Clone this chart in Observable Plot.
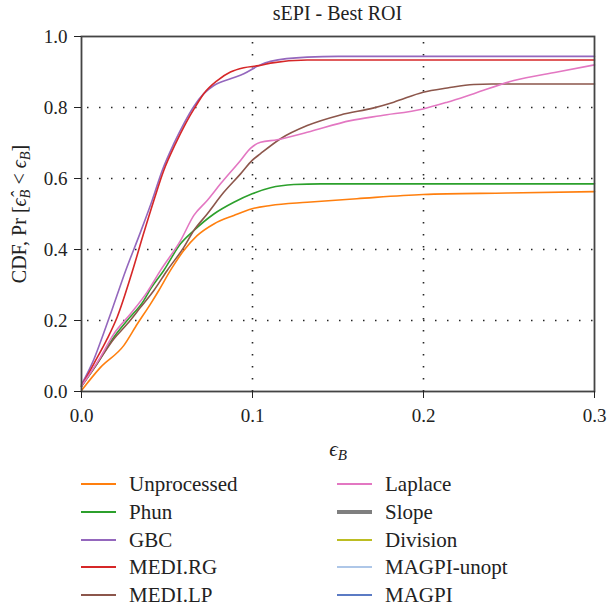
<!DOCTYPE html>
<html><head><meta charset="utf-8">
<script src="https://cdn.jsdelivr.net/npm/d3@7"></script>
<script src="https://cdn.jsdelivr.net/npm/@observablehq/plot@0.6"></script>
<style>
body{margin:0;background:#fff;font-family:"Liberation Serif",serif;color:#222}
#wrap{width:607px;position:relative}
#title{height:24px;line-height:27px;font-size:20px;margin-left:81px;width:513px;text-align:center;white-space:nowrap}
#legend{position:relative;height:140px}
.item{position:absolute;height:28px;display:flex;align-items:center;font-size:21px;white-space:nowrap}
.sw{width:35px;margin-right:13px}
</style></head><body>
<div id="wrap">
<div id="title">sEPI - Best ROI</div>
<div id="chart"></div>
<div id="legend"></div>
</div>
<script>
const seriesNames = ["Unprocessed","Phun","GBC","MEDI.RG","MEDI.LP","Laplace","Slope","Division","MAGPI-unopt","MAGPI"];
const seriesColors = ["#ff7f0e","#2ca02c","#9467bd","#d62728","#8c564b","#e377c2","#7f7f7f","#bcbd22","#aec7e8","#5b7bc4"];
const legendWidths = [2,2,2,2,2,2,4,2,2,2];

const xTicks = [0, 0.1, 0.2, 0.3];
const yTicks = [0, 0.2, 0.4, 0.6, 0.8, 1.0];
const xGrid = [0.1, 0.2];
const yGrid = [0.2, 0.4, 0.6, 0.8];

const unprocessed = [[0,0.003],[0.0111,0.068],[0.0248,0.13],[0.0326,0.19],[0.0404,0.247],[0.0452,0.2845],[0.052,0.341],[0.0598,0.397],[0.0676,0.439],[0.0774,0.472],[0.0891,0.496],[0.0998,0.515],[0.1105,0.524],[0.132,0.533],[0.161,0.543],[0.1998,0.555],[0.249,0.559],[0.3,0.563]];
const phun = [[0,0.015],[0.008,0.07],[0.0189,0.153],[0.0267,0.2],[0.0364,0.256],[0.0404,0.289],[0.0481,0.341],[0.0579,0.416],[0.0657,0.4535],[0.0774,0.5],[0.0891,0.533],[0.0998,0.557],[0.1105,0.574],[0.1242,0.583],[0.14,0.585],[0.3,0.585]];
const gbc = [[0,0.02],[0.0072,0.09],[0.013,0.165],[0.0189,0.245],[0.0258,0.34],[0.0345,0.449],[0.0413,0.538],[0.0472,0.6225],[0.054,0.698],[0.0598,0.754],[0.0657,0.803],[0.0715,0.839],[0.0774,0.862],[0.0871,0.881],[0.0949,0.895],[0.1037,0.918],[0.1105,0.93],[0.132,0.942],[0.15,0.944],[0.3,0.944]];
const mediRG = [[0,0.015],[0.0072,0.078],[0.015,0.148],[0.0209,0.21],[0.0297,0.338],[0.036,0.44],[0.0423,0.538],[0.0481,0.6225],[0.055,0.698],[0.0608,0.754],[0.0667,0.803],[0.0715,0.839],[0.0794,0.876],[0.0871,0.9],[0.0949,0.912],[0.1037,0.918],[0.1105,0.925],[0.132,0.934],[0.3,0.934]];
const mediLP = [[0,0.015],[0.008,0.07],[0.0189,0.148],[0.0267,0.19],[0.0345,0.237],[0.0423,0.2845],[0.0501,0.341],[0.0598,0.406],[0.0657,0.4535],[0.0735,0.5],[0.0832,0.561],[0.093,0.613],[0.0998,0.651],[0.1047,0.67],[0.1164,0.712],[0.132,0.749],[0.1515,0.779],[0.171,0.799],[0.1826,0.815],[0.1998,0.843],[0.2139,0.855],[0.2294,0.865],[0.24,0.866],[0.3,0.866]];
const laplace = [[0,0.015],[0.0111,0.097],[0.0189,0.162],[0.0287,0.219],[0.0384,0.28],[0.0462,0.341],[0.0579,0.425],[0.0657,0.496],[0.0735,0.538],[0.0813,0.585],[0.093,0.651],[0.0988,0.685],[0.1047,0.702],[0.1144,0.709],[0.132,0.73],[0.1573,0.763],[0.1749,0.777],[0.1998,0.796],[0.2139,0.815],[0.2294,0.839],[0.2528,0.876],[0.2782,0.9],[0.3,0.92]];

const drawn = [["Unprocessed",unprocessed],["Phun",phun],["GBC",gbc],["MEDI.RG",mediRG],["MEDI.LP",mediLP],["Laplace",laplace]];
const rows = drawn.flatMap(([name, pts]) => pts.map(([x, y]) => ({name, x, y})));

const plot = Plot.plot({
  width: 607, height: 440,
  marginLeft: 81, marginRight: 13, marginTop: 12, marginBottom: 73,
  style: {fontFamily: '"Liberation Serif", serif', fontSize: "19px", color: "#222", background: "#fff"},
  x: {domain: [0, 0.3]},
  y: {domain: [0, 1]},
  color: {domain: seriesNames, range: seriesColors},
  marks: [
    Plot.gridX(xGrid, {stroke: "#000", strokeOpacity: 0.85, strokeWidth: 1.6, strokeDasharray: "1.5,10.5", strokeDashoffset: -6}),
    Plot.gridY(yGrid, {stroke: "#000", strokeOpacity: 0.85, strokeWidth: 1.6, strokeDasharray: "1.5,10.5", strokeDashoffset: -6}),
    Plot.line(rows, {x: "x", y: "y", z: "name", stroke: "name", strokeWidth: 1.6, curve: "monotone-x"}),
    Plot.frame({stroke: "#444", strokeWidth: 1.8}),
    Plot.axisX({ticks: xTicks, tickFormat: d3.format(".1f"), tickSize: 7, tickPadding: 10, label: "ϵB", labelAnchor: "center", labelArrow: "none", labelOffset: 57}),
    Plot.axisY({ticks: yTicks, tickFormat: d3.format(".1f"), tickSize: 7, tickPadding: 7, label: "CDF", labelAnchor: "center", labelArrow: "none", labelOffset: 70})
  ]
});
document.getElementById("chart").appendChild(plot);

const sv = d3.select(plot);
sv.selectAll("g[aria-label='x-axis label']").each(function(){
  const tr = this.getAttribute("transform") || "";
  this.setAttribute("transform", (tr + " translate(0,7)").trim());
});
sv.selectAll("g[aria-label='x-axis label'] text").each(function(){
  const t = d3.select(this); t.text("").attr("font-size", "21px");
  t.append("tspan").attr("font-style","italic").text("ϵ");
  t.append("tspan").attr("font-style","italic").attr("font-size","0.72em").attr("dy","0.3em").text("B");
});
sv.selectAll("g[aria-label='y-axis label'] text").each(function(){
  const t = d3.select(this); t.text("").attr("font-size", "20px");
  t.append("tspan").text("CDF, Pr [");
  t.append("tspan").attr("font-style","italic").text("ϵ\u0302");
  t.append("tspan").attr("font-style","italic").attr("font-size","0.72em").attr("dy","0.3em").text("B");
  t.append("tspan").attr("dy","-0.22em").text(" < ");
  t.append("tspan").attr("font-style","italic").text("ϵ");
  t.append("tspan").attr("font-style","italic").attr("font-size","0.72em").attr("dy","0.3em").text("B");
  t.append("tspan").attr("dy","-0.22em").text("]");
});

const lg = document.getElementById("legend");
const colLeft = [81, 337];
const rowCenter = [20, 48, 76, 103, 131];
seriesNames.forEach((name, i) => {
  const col = i < 5 ? 0 : 1, r = i % 5;
  const it = document.createElement("div"); it.className = "item";
  it.style.left = colLeft[col] + "px"; it.style.top = (rowCenter[r] - 14) + "px";
  const sw = document.createElement("div"); sw.className = "sw";
  sw.style.height = legendWidths[i] + "px"; sw.style.background = seriesColors[i];
  const tx = document.createElement("span"); tx.textContent = name;
  it.appendChild(sw); it.appendChild(tx); lg.appendChild(it);
});
</script>
</body></html>
